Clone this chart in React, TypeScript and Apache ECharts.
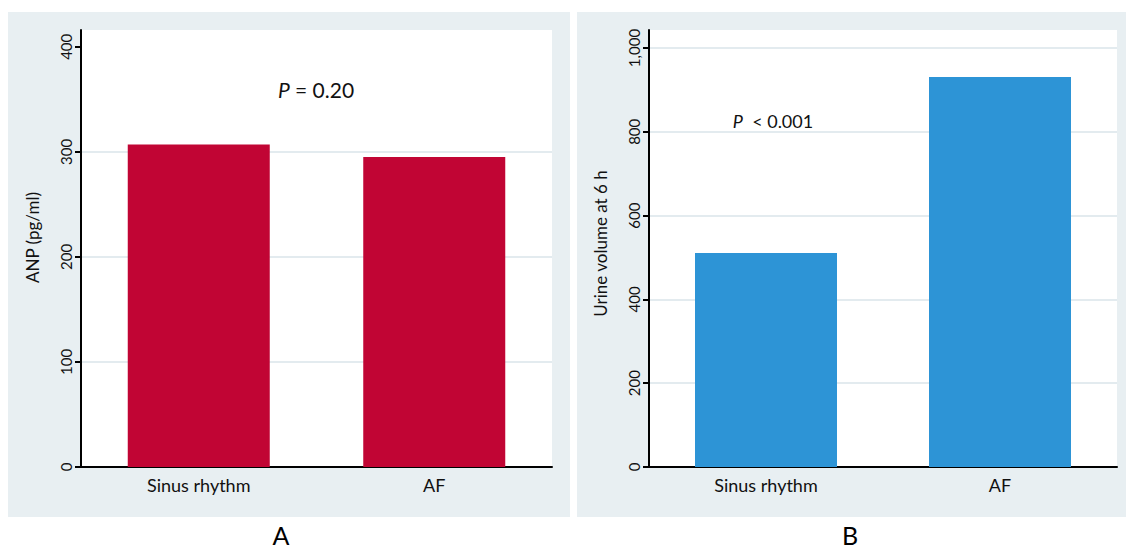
import React, { useEffect, useRef } from "react";
import * as echarts from "echarts";

const categories = ["Sinus rhythm", "AF"];
const anpValues = [307, 295];
const urineValues = [511, 931];
const anpTicks = [0, 100, 200, 300, 400];
const urineTicks = [0, 200, 400, 600, 800, 1000];
const anpGrid = [100, 200, 300];
const urineGrid = [200, 400, 600, 800, 1000];

const FONT = "Lato, 'Open Sans', sans-serif";
const PANEL_BG = "#e8eff2";
const GRID_COLOR = "#e3ebef";

const fmt = (v: number) => v.toLocaleString("en-US");

export default function App() {
  const ref = useRef<HTMLDivElement>(null);
  useEffect(() => {
    document.body.style.margin = "0";
    const chart = echarts.init(ref.current!, null, { renderer: "svg" });
    const yAxisCommon = (idx: number, name: string, max: number, ticks: number[], gap: number, shift: number) => ({
      type: "value" as const,
      gridIndex: idx,
      min: 0,
      max,
      name,
      nameLocation: "middle" as const,
      nameGap: gap,
      nameRotate: 90,
      nameTextStyle: { fontFamily: FONT, fontSize: 17, color: "#111", padding: [0, 0, 0, shift] },
      axisLine: { show: true, lineStyle: { color: "#000", width: 2 } },
      axisTick: { show: true, length: 6, customValues: ticks, lineStyle: { color: "#000", width: 2 } },
      axisLabel: {
        customValues: ticks,
        rotate: 90,
        margin: 8,
        fontFamily: FONT,
        fontSize: 15,
        color: "#111",
        formatter: (v: number) => fmt(v),
      },
      splitLine: { show: false },
    });
    const xAxisCommon = (idx: number) => ({
      type: "category" as const,
      gridIndex: idx,
      data: categories,
      axisLine: { show: true, lineStyle: { color: "#000", width: 2 } },
      axisTick: { show: false },
      axisLabel: { fontFamily: FONT, fontSize: 18, color: "#111", margin: 9 },
    });
    const gridSeries = (idx: number, vals: number[]) => ({
      type: "line" as const,
      xAxisIndex: idx,
      yAxisIndex: idx,
      data: [],
      z: 0,
      silent: true,
      markLine: {
        z: 0,
        silent: true,
        symbol: "none",
        label: { show: false },
        lineStyle: { color: GRID_COLOR, width: 2, type: "solid" },
        data: vals.map((v) => ({ yAxis: v })),
      },
    });
    chart.setOption({
      animation: false,
      graphic: [
        { type: "rect", z: -10, shape: { x: 8, y: 12, width: 562, height: 505 }, style: { fill: PANEL_BG } },
        { type: "rect", z: -10, shape: { x: 577, y: 12, width: 549, height: 505 }, style: { fill: PANEL_BG } },
        { type: "rect", z: -9, shape: { x: 81, y: 30, width: 471, height: 437 }, style: { fill: "#fff" } },
        { type: "rect", z: -9, shape: { x: 649, y: 30, width: 468, height: 437 }, style: { fill: "#fff" } },
        {
          type: "text",
          x: 316,
          y: 89,
          style: {
            text: "{i|P} = 0.20",
            rich: { i: { fontStyle: "italic", fontSize: 21, fontFamily: FONT, fill: "#111" } },
            fontSize: 21,
            fontFamily: FONT,
            fill: "#111",
            align: "center",
            verticalAlign: "middle",
          } as any,
        },
        {
          type: "text",
          x: 773,
          y: 121,
          style: {
            text: "{i|P}  < 0.001",
            rich: { i: { fontStyle: "italic", fontSize: 18, fontFamily: FONT, fill: "#111" } },
            fontSize: 18,
            fontFamily: FONT,
            fill: "#111",
            align: "center",
            verticalAlign: "middle",
          } as any,
        },
        {
          type: "text",
          x: 281,
          y: 535,
          style: { text: "A", fontSize: 25, fontFamily: FONT, fill: "#000", align: "center", verticalAlign: "middle" },
        },
        {
          type: "text",
          x: 850,
          y: 535,
          style: { text: "B", fontSize: 25, fontFamily: FONT, fill: "#000", align: "center", verticalAlign: "middle" },
        },
      ],
      grid: [
        { left: 81, top: 30, width: 471, height: 437 },
        { left: 649, top: 30, width: 468, height: 437 },
      ],
      xAxis: [xAxisCommon(0), xAxisCommon(1)],
      yAxis: [
        yAxisCommon(0, "ANP (pg/ml)", 416, anpTicks, 40, 22),
        yAxisCommon(1, "Urine volume at 6 h", 1043, urineTicks, 40, 10),
      ],
      series: [
        gridSeries(0, anpGrid),
        gridSeries(1, urineGrid),
        {
          type: "bar",
          xAxisIndex: 0,
          yAxisIndex: 0,
          data: anpValues,
          barWidth: 142,
          z: 2,
          itemStyle: { color: "#c10534" },
        },
        {
          type: "bar",
          xAxisIndex: 1,
          yAxisIndex: 1,
          data: urineValues,
          barWidth: 142,
          z: 2,
          itemStyle: { color: "#2d94d6" },
        },
      ],
    });
    return () => chart.dispose();
  }, []);
  return <div ref={ref} style={{ width: 1126, height: 549 }} />;
}
